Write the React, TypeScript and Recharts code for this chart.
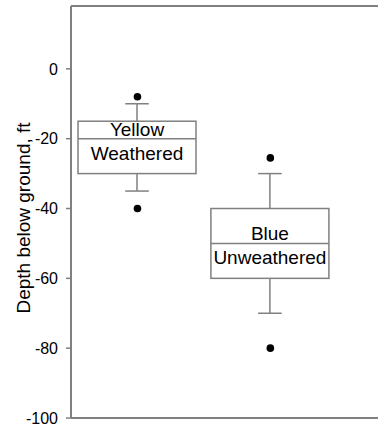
import React from "react";
import { ComposedChart, Bar, Scatter, XAxis, YAxis, ReferenceLine } from "recharts";

const groups = ["Yellow", "Blue"];
const subLabels = ["Weathered", "Unweathered"];
const positions = [1, 2];
const whiskerLow = [-35, -70];
const q1 = [-30, -60];
const medians = [-20, -50];
const q3 = [-15, -40];
const whiskerHigh = [-10, -30];
const outlierX = [1, 1, 2, 2];
const outlierY = [-8, -40, -25.5, -80];
const yTicks = [-100, -80, -60, -40, -20, 0];
const yDomain = [-100, 18];

const boxData = groups.map((g, i) => ({
  name: g,
  sub: subLabels[i],
  x: positions[i],
  wLow: whiskerLow[i],
  q1: q1[i],
  med: medians[i],
  q3: q3[i],
  wHigh: whiskerHigh[i],
}));
const outliers = outlierX.map((x, i) => ({ x, y: outlierY[i] }));

const LINE = "#808080";
const FONT = "'Liberation Sans', Arial, sans-serif";

const BoxShape = (props: any) => {
  const { x, y, width, height, payload } = props;
  const top = Math.min(y, y + height);
  const h = Math.abs(height);
  const p = payload;
  const py = (v: number) => top + (h * (p.wHigh - v)) / (p.wHigh - p.wLow);
  const cx = x + width / 2;
  const cap = width * 0.1;
  const yQ3 = py(p.q3);
  const yQ1 = py(p.q1);
  const yMed = py(p.med);
  return (
    <g>
      <line x1={cx} x2={cx} y1={py(p.wHigh)} y2={yQ3} stroke={LINE} strokeWidth={1.5} />
      <line x1={cx} x2={cx} y1={yQ1} y2={py(p.wLow)} stroke={LINE} strokeWidth={1.5} />
      <line x1={cx - cap} x2={cx + cap} y1={py(p.wHigh)} y2={py(p.wHigh)} stroke={LINE} strokeWidth={1.5} />
      <line x1={cx - cap} x2={cx + cap} y1={py(p.wLow)} y2={py(p.wLow)} stroke={LINE} strokeWidth={1.5} />
      <rect x={x} y={yQ3} width={width} height={yQ1 - yQ3} fill="#fff" stroke={LINE} strokeWidth={1.5} />
      <line x1={x} x2={x + width} y1={yMed} y2={yMed} stroke={LINE} strokeWidth={1.5} />
      <text x={cx} y={yMed - 3} textAnchor="middle" fontSize={19} fontFamily={FONT} fill="#000">
        {p.name}
      </text>
      <text x={cx} y={yMed + 21} textAnchor="middle" fontSize={19} fontFamily={FONT} fill="#000">
        {p.sub}
      </text>
    </g>
  );
};

const Dot = (props: any) => <circle cx={props.cx} cy={props.cy} r={3.8} fill="#000" />;

const YLabel = () => (
  <text
    x={23}
    y={218}
    transform="rotate(-90 23 218)"
    textAnchor="middle"
    dominantBaseline="central"
    fontSize={19}
    fontFamily={FONT}
    fill="#000"
  >
    Depth below ground, ft
  </text>
);

export default function App() {
  return (
    <div style={{ position: "absolute", left: 0, top: 0, background: "#fff" }}>
      <ComposedChart
        width={378}
        height={428}
        data={boxData}
        margin={{ top: 6, right: 0, bottom: 10, left: 0 }}
      >
        <XAxis
          dataKey="x"
          type="number"
          domain={[0.5, 2.81]}
          tick={false}
          height={0}
          axisLine={false}
          tickLine={false}
        />
        <YAxis
          type="number"
          domain={yDomain}
          ticks={yTicks}
          width={71}
          tickSize={5}
          tickMargin={8}
          axisLine={{ stroke: LINE, strokeWidth: 2 }}
          tickLine={{ stroke: LINE, strokeWidth: 1.5 }}
          tick={{ fontSize: 16, fontFamily: FONT, fill: "#000" }}
          label={<YLabel />}
        />
        <ReferenceLine y={yDomain[0]} stroke={LINE} strokeWidth={2} />
        <ReferenceLine y={yDomain[1]} stroke={LINE} strokeWidth={2} />
        <Bar
          dataKey={(d: any) => [d.wLow, d.wHigh]}
          barSize={118}
          shape={<BoxShape />}
          isAnimationActive={false}
        />
        <Scatter data={outliers} dataKey="y" shape={<Dot />} isAnimationActive={false} />
      </ComposedChart>
    </div>
  );
}
